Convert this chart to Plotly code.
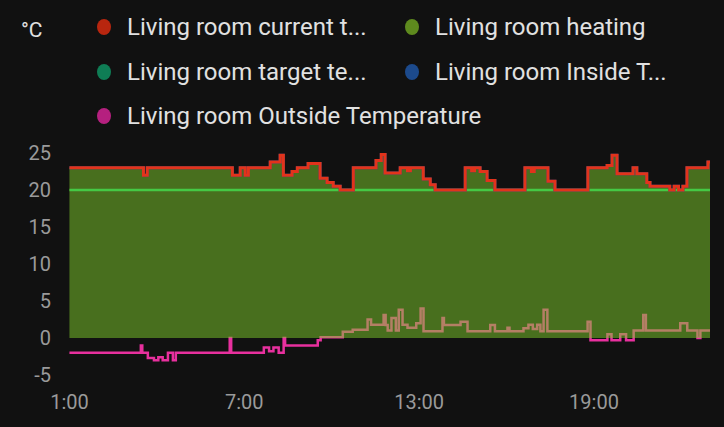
import plotly.graph_objects as go

# ---- data (hours of day, °C) ----
current_t = [1.0, 3.54, 3.67, 6.59, 6.86, 7.03, 7.14, 7.89, 8.23, 8.34, 8.64, 8.82, 9.19, 9.6, 9.84,
             10.05, 10.29, 10.74, 11.52, 11.7, 11.83, 12.35, 12.6, 12.7, 13.14, 13.38, 13.55,
             14.58, 14.8, 14.9, 15.09, 15.33, 15.6, 16.63, 16.85, 16.95, 17.42, 17.66,
             18.79, 19.45, 19.62, 19.79, 20.34, 20.47, 20.81, 20.92, 21.6, 21.75, 21.9, 22.05,
             22.19, 22.91, 23.0]
current_v = [23, 22, 23, 22, 23, 22, 23, 23.8, 24.7, 22, 22.5, 23, 23.6, 21.6, 21,
             20.5, 20, 23, 24, 24.8, 22.3, 23, 22.6, 23, 21.5, 20.7, 20,
             23, 22.6, 23, 22.5, 21.3, 20, 23, 22.5, 23, 21.2, 20,
             23, 23.3, 24.7, 22.2, 23, 22.2, 21, 20.5, 20, 20.5, 20, 20.5,
             23, 23.8, 23.8]

target_t = [1.0, 23.0]
target_v = [20, 20]

outside_t = [1.0, 3.45, 3.5, 3.69, 3.9, 4.05, 4.2, 4.38, 4.55, 4.65, 6.5, 6.55, 7.67, 7.85, 8.0,
             8.18, 8.35, 8.4, 9.52, 9.62, 10.38, 10.72, 11.23, 11.35, 11.78, 11.85, 11.92,
             12.05, 12.2, 12.3, 12.43, 12.6, 12.9, 13.05, 13.15, 13.8, 13.85, 14.42, 14.66,
             15.44, 15.6, 16.03, 16.1, 16.58, 16.75, 16.9, 17.05, 17.16, 17.27, 17.4,
             18.78, 18.88, 19.46, 19.6, 19.9, 20.1, 20.36, 20.69, 20.78, 21.96, 22.2,
             22.55, 22.65, 23.0]
outside_v = [-2, -1, -2, -2.7, -3.0, -2.6, -3.0, -2, -3, -2, 0, -2, -1.3, -1.8, -1.3,
             -2, 0, -1, -0.3, 0.1, 0.85, 1.1, 2.5, 1.8, 3.1, 1.75, 1.0,
             2.7, 1.0, 3.8, 1.8, 1.4, 2.0, 4.0, 0.9, 2.7, 1.75, 2.2, 0.9,
             1.75, 0.9, 1.4, 0.9, 1.3, 1.8, 1.2, 1.8, 0.9, 3.8, 0.9,
             2.2, -0.3, 0.5, -0.3, 0.5, -0.3, 1.0, 3.1, 1.0, 2.0, 1.0,
             0, 1.0, 1.0]

x_tickvals = [1, 7, 13, 19]
x_ticktext = ["1:00", "7:00", "13:00", "19:00"]
y_tickvals = [-5, 0, 5, 10, 15, 20, 25]
y_ticktext = ["-5", "0", "5", "10", "15", "20", "25"]

legend_names = ["Living room current t...", "Living room heating",
                "Living room target te...", "Living room Inside T...",
                "Living room Outside Temperature"]
legend_colors = ["#b8260f", "#5e8a1e", "#0f7d55", "#1c4a8c", "#b5207f"]

# ---- figure ----
W, H = 724, 427
L, R, T, B = 69, 14, 142, 37
pw, ph = W - L - R, H - T - B

fig = go.Figure()
fig.add_trace(go.Scatter(x=outside_t, y=outside_v, mode="lines", line=dict(shape="hv", color="#e8309e", width=2.5),
                         showlegend=False, hoverinfo="skip"))
fig.add_trace(go.Scatter(x=current_t, y=current_v, mode="lines", line=dict(shape="hv", width=0),
                         fill="tozeroy", fillcolor="rgba(127,205,43,0.5)", showlegend=False, hoverinfo="skip"))
fig.add_trace(go.Scatter(x=target_t, y=target_v, mode="lines", line=dict(color="#45c845", width=2.5),
                         showlegend=False, hoverinfo="skip"))
fig.add_trace(go.Scatter(x=current_t, y=current_v, mode="lines", line=dict(shape="hv", color="#1c4a8c", width=3),
                         showlegend=False, hoverinfo="skip"))
fig.add_trace(go.Scatter(x=current_t, y=current_v, mode="lines", line=dict(shape="hv", color="#e2331b", width=3),
                         showlegend=False, hoverinfo="skip"))

# legend built from annotations + circles
rows_y = [27, 72, 116]
cols_x = [104, 412]
pos = [(0, 0), (1, 0), (0, 1), (1, 1), (0, 2)]
for name, col, (c, r) in zip(legend_names, legend_colors, pos):
    px, py = cols_x[c], rows_y[r]
    xp = (px - L) / pw
    yp = (H - B - py) / ph
    fig.add_shape(type="circle", xref="paper", yref="paper", xsizemode="pixel", ysizemode="pixel",
                  xanchor=xp, yanchor=yp, x0=-7, x1=7, y0=-8, y1=8,
                  fillcolor=col, line=dict(width=0))
    fig.add_annotation(x=(px + 21 - L) / pw, y=yp, xref="paper", yref="paper", text=name,
                       showarrow=False, xanchor="left", yanchor="middle",
                       font=dict(family="Roboto", size=24, color="#e1e1e1"))

fig.add_annotation(x=(32 - L) / pw, y=(H - B - 30) / ph, xref="paper", yref="paper", text="°C",
                   showarrow=False, xanchor="center", yanchor="middle",
                   font=dict(family="Roboto", size=21, color="#e1e1e1"))

fig.update_layout(
    width=W, height=H,
    margin=dict(l=L, r=R, t=T, b=B, autoexpand=False),
    paper_bgcolor="#111111", plot_bgcolor="#111111",
    font=dict(family="Roboto", color="#9a9a9a", size=20),
    xaxis=dict(range=[0.985, 22.98], tickvals=x_tickvals, ticktext=x_ticktext, showgrid=False,
               zeroline=False, showline=False, ticks="", ticklabelstandoff=-2,
               tickfont=dict(size=20, color="#9a9a9a")),
    yaxis=dict(range=[-7.03, 26.49], tickvals=y_tickvals, ticktext=y_ticktext, showgrid=False,
               zeroline=False, showline=False, ticks="outside", ticklen=13, tickcolor="rgba(0,0,0,0)",
               tickfont=dict(size=20, color="#9a9a9a")),
)

fig.write_html("out.html", config={"displayModeBar": False},
               post_script="document.body.style.margin='0';document.body.style.background='#111111';")
